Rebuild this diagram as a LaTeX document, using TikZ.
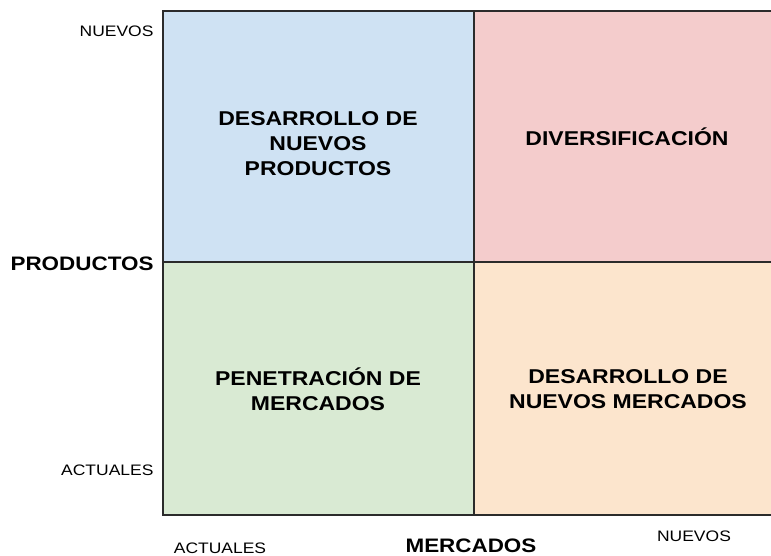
\documentclass[tikz,border=0pt]{standalone}
\usepackage{fontspec}
\setmainfont[FakeStretch=1.15]{Liberation Sans}
\definecolor{qblue}{HTML}{CFE2F3}
\definecolor{qred}{HTML}{F4CCCC}
\definecolor{qgreen}{HTML}{D9EAD3}
\definecolor{qorange}{HTML}{FCE5CD}
\definecolor{qline}{HTML}{2B2B2B}
\tikzset{
  quad/.style={draw=qline, line width=1.6pt, inner sep=0pt, outer sep=0pt, anchor=north west},
  qlabel/.style={align=center, font=\fontsize{20}{25}\selectfont\bfseries},
  axisname/.style={font=\fontsize{19.5}{24}\selectfont\bfseries},
  axisval/.style={font=\fontsize{15.2}{19}\selectfont},
}
\begin{document}
\begin{tikzpicture}[x=1pt, y=-1pt]
    \useasboundingbox (0,0) rectangle (771,556);
    \node[quad, fill=qblue, minimum width=311pt, minimum height=251pt] (dnp) at (163,11) {};
    \node[quad, fill=qred, minimum width=300pt, minimum height=251pt] (div) at (474,11) {};
    \node[quad, fill=qgreen, minimum width=311pt, minimum height=253pt] (pen) at (163,262) {};
    \node[quad, fill=qorange, minimum width=300pt, minimum height=253pt] (dnm) at (474,262) {};
    \node[qlabel] (dnptxt) at (318,144) {DESARROLLO DE\\NUEVOS\\PRODUCTOS};
    \node[qlabel] (divtxt) at (627,137) {DIVERSIFICACIÓN};
    \node[qlabel] (pentxt) at (318,389) {PENETRACIÓN DE\\MERCADOS};
    \node[qlabel] (dnmtxt) at (628,389) {DESARROLLO DE\\NUEVOS MERCADOS};
    \node[axisval, anchor=east] (pnuevos) at (157,31) {NUEVOS};
    \node[axisname, anchor=east] (prod) at (157,264) {PRODUCTOS};
    \node[axisval, anchor=east] (pactuales) at (157,470) {ACTUALES};
    \node[axisval] (mactuales) at (220,548) {ACTUALES};
    \node[axisname] (merc) at (471,546) {MERCADOS};
    \node[axisval] (mnuevos) at (694,536) {NUEVOS};
\end{tikzpicture}
\end{document}
